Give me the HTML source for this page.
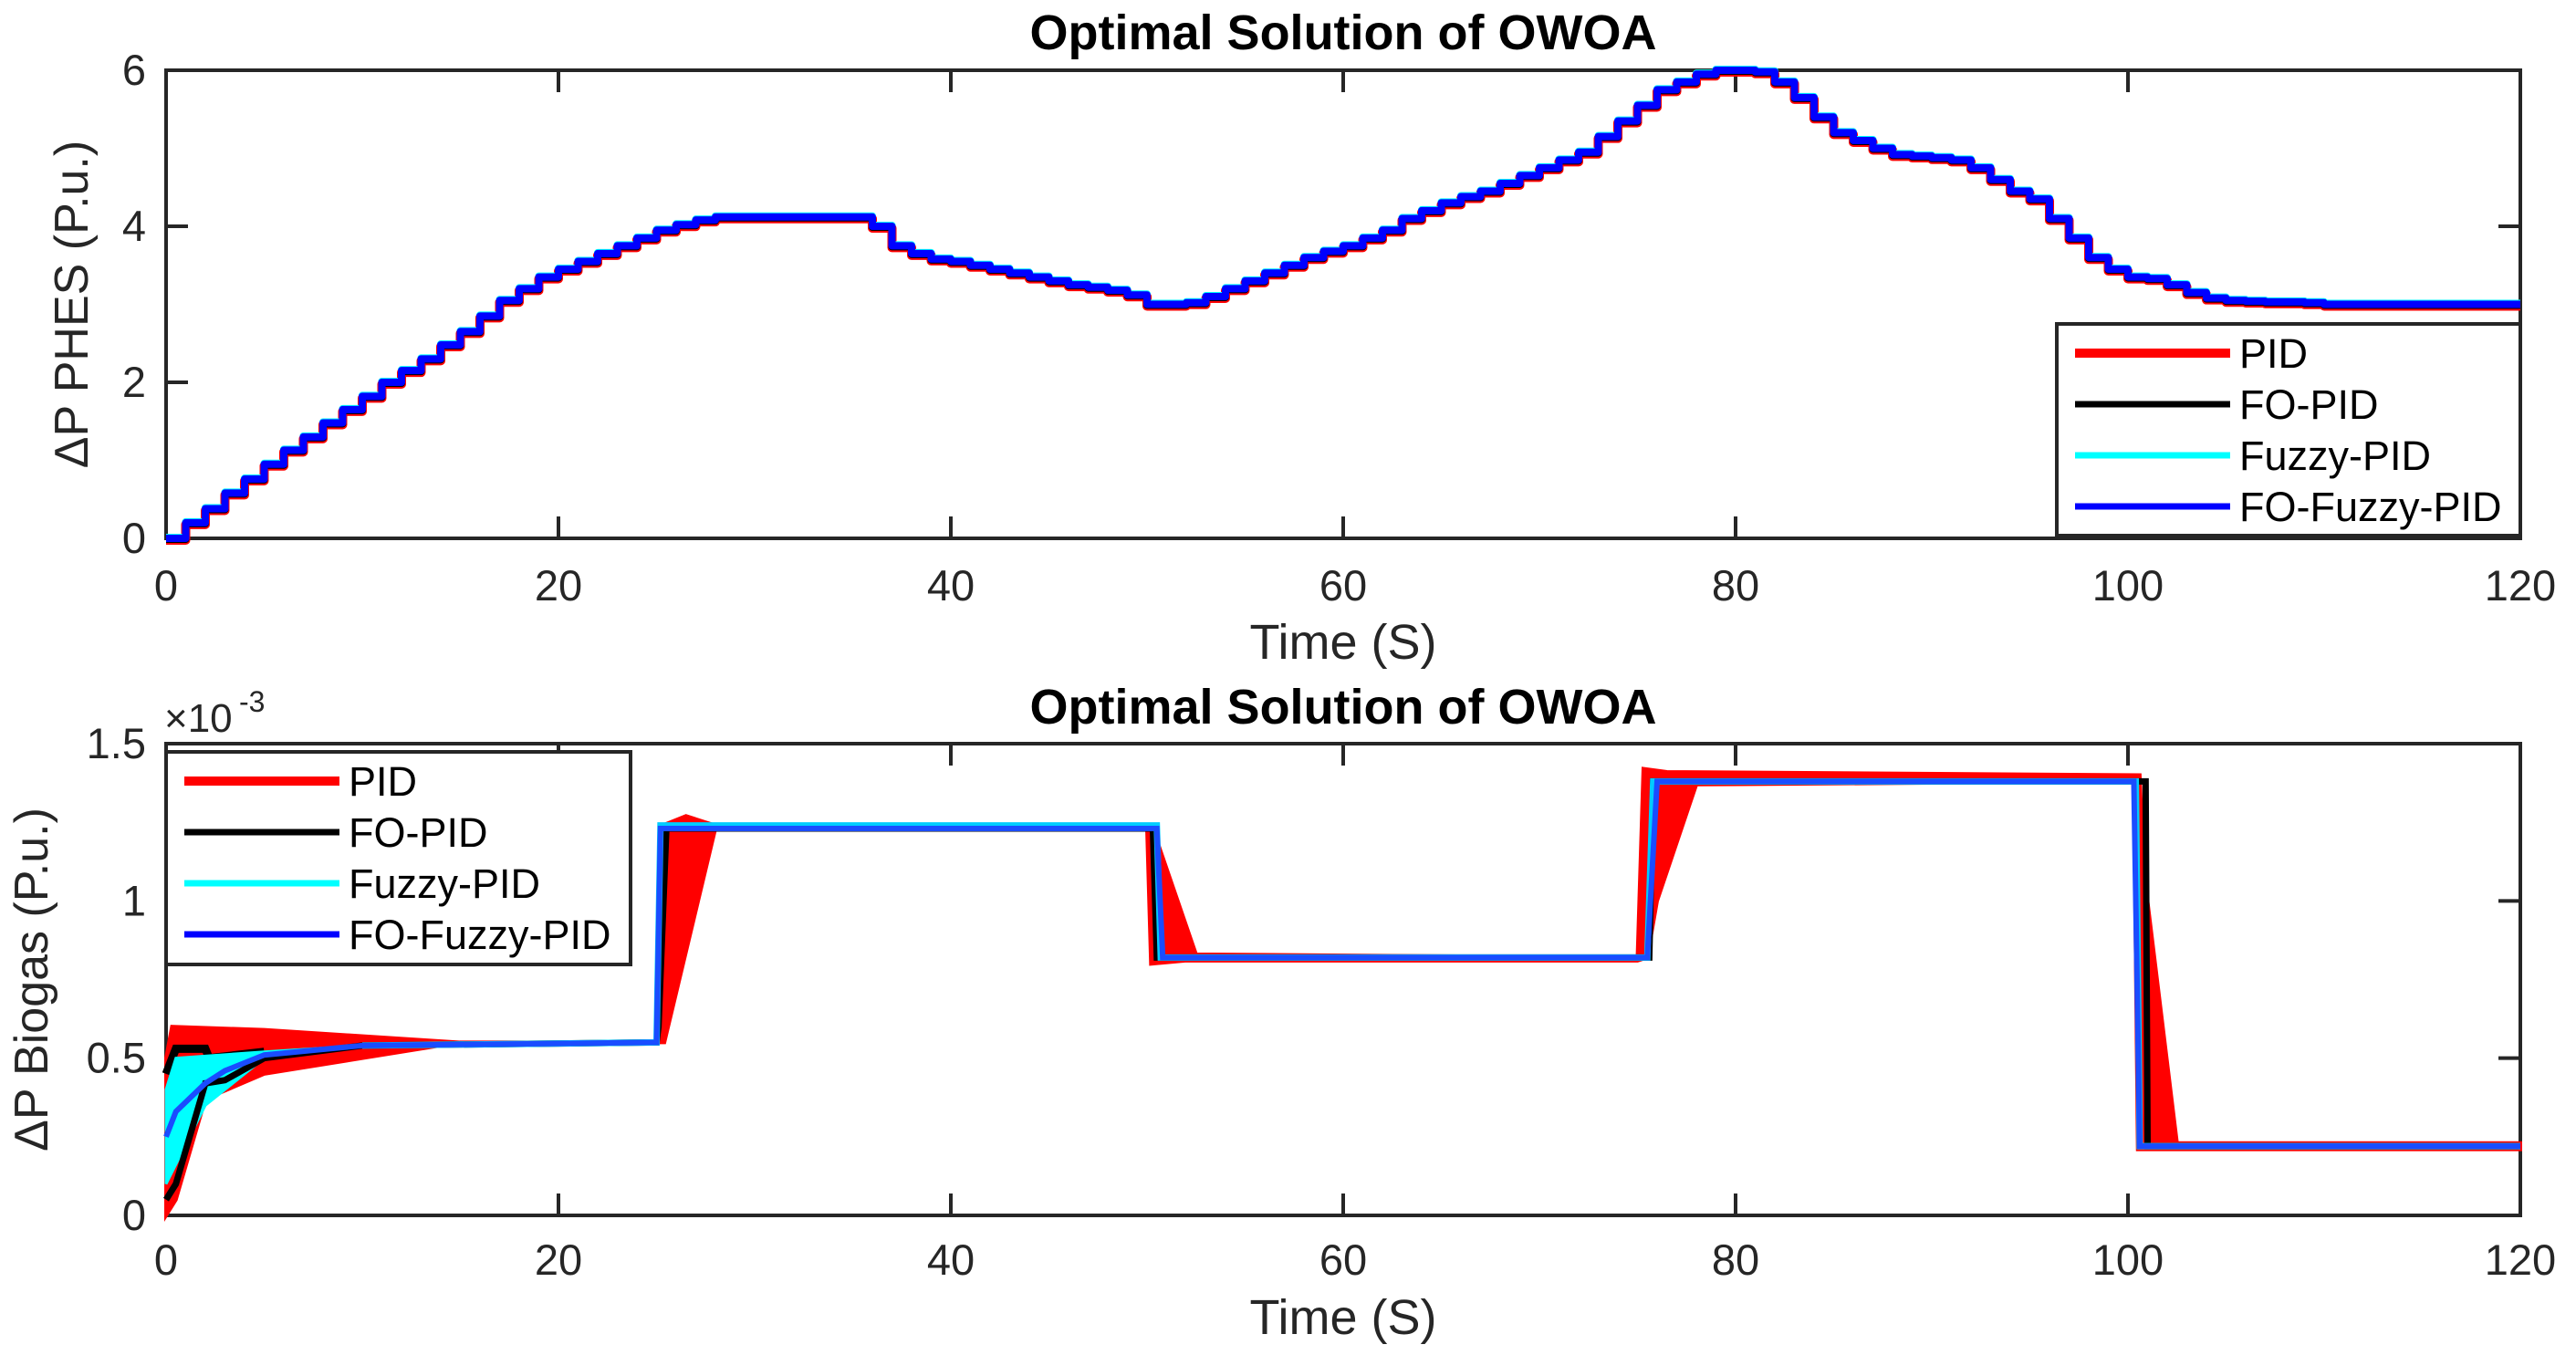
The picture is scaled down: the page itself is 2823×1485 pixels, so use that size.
<!DOCTYPE html>
<html><head><meta charset="utf-8">
<style>
html,body{margin:0;padding:0;background:#fff;}
svg{display:block;font-family:"Liberation Sans",Arial,sans-serif;}
</style></head>
<body>
<svg id="fig" width="2823" height="1485" viewBox="0 0 2823 1485" xmlns="http://www.w3.org/2000/svg">
<rect width="2823" height="1485" fill="#fff"/>
<g id="top"></g>
<g id="bot"></g>
</svg>
<script>
// ---- Data ----
const xTicks = [0,20,40,60,80,100,120];
const topYTicks = [0,2,4,6];
const botYTicks = [0,0.5,1,1.5];
const botYTickLabels = ["0","0.5","1","1.5"];
const seriesNames = ["PID","FO-PID","Fuzzy-PID","FO-Fuzzy-PID"];
const seriesColors = ["#ff0000","#000000","#00ffff","#0000ff"];
// Top chart: ΔP PHES, sampled every 1 s (t = 0..120)
const phesValues = [0,0.2,0.38,0.58,0.76,0.95,1.13,1.3,1.48,1.65,1.82,2.0,2.15,2.3,2.48,2.65,2.85,3.05,3.2,3.35,3.45,3.55,3.65,3.75,3.85,3.95,4.02,4.08,4.12,4.12,4.12,4.12,4.12,4.12,4.12,4.12,4.0,3.75,3.65,3.58,3.55,3.5,3.45,3.4,3.35,3.3,3.25,3.22,3.18,3.12,3.0,3.0,3.02,3.1,3.2,3.3,3.4,3.5,3.6,3.68,3.75,3.85,3.95,4.1,4.2,4.3,4.38,4.45,4.55,4.65,4.75,4.85,4.95,5.15,5.35,5.55,5.75,5.85,5.95,6.0,6.0,5.98,5.85,5.65,5.4,5.2,5.1,5.0,4.92,4.9,4.88,4.85,4.75,4.6,4.45,4.35,4.1,3.85,3.6,3.45,3.35,3.33,3.25,3.15,3.08,3.05,3.04,3.03,3.03,3.02,3.0,3.0,3.0,3.0,3.0,3.0,3.0,3.0,3.0,3.0,3.0];
// Bottom chart: ΔP Biogas (×1e-3). Each as [time, value]
const pidUpper = [[0,0.5],[0.3,0.6],[5,0.59],[15,0.55],[25,0.55],[25.3,1.24],[26.5,1.27],[28,1.24],[50.3,1.23],[52.5,0.83],[75,0.82],[75.3,1.42],[76.5,1.41],[100.6,1.4],[100.8,1.1],[102.5,0.23],[120,0.23]];
const pidLower = [[0,0],[0.5,0.05],[2,0.37],[5,0.45],[10,0.5],[15,0.55],[25,0.55],[25.4,0.55],[28,1.23],[50,1.23],[50.2,0.8],[52,0.81],[75,0.81],[75.5,0.82],[76,1.0],[78,1.37],[100.3,1.38],[100.5,0.21],[120,0.21]];
const fuzzyUpper = [[0,0.4],[0.5,0.5],[5,0.52],[10,0.54]];
const fuzzyLower = [[0,0.1],[2,0.35],[5,0.5],[10,0.54]];
const foPidUpper = [[0,0.45],[0.5,0.53],[2,0.53],[2.2,0.5],[5,0.52]];
const foPidLine = [[0,0.05],[0.5,0.1],[2,0.42],[3,0.43],[5,0.5],[10,0.54],[25,0.55],[25.1,0.6],[25.5,1.23],[50.3,1.23],[50.5,0.82],[75.6,0.82],[75.8,1.38],[100.9,1.38],[101,0.22],[120,0.22]];
const foFuzzyLine = [[0,0.25],[0.5,0.33],[2,0.42],[3,0.46],[5,0.51],[10,0.54],[25,0.55],[25.2,1.23],[50.5,1.23],[50.8,0.82],[75.5,0.82],[76,1.38],[100.3,1.38],[100.6,0.22],[120,0.22]];
const fuzzyLine = [[10,0.54],[25,0.55],[25.2,1.24],[50.5,1.24],[50.7,0.82],[75.5,0.82],[75.8,1.38],[100.4,1.38],[100.6,0.22],[120,0.22]];

const NS="http://www.w3.org/2000/svg";
function mk(parent,tag,attrs,text){const e=document.createElementNS(NS,tag);for(const k in attrs)e.setAttribute(k,attrs[k]);if(text!==undefined)e.textContent=text;parent.appendChild(e);return e;}
const X0=182,X1=2762;
function xs(t){return X0+(t-0)/(120-0)*(X1-X0);}

function axes(g,Y0,Y1,ymax,yTicks,yLabels,ylab,ylabX,title,titleY,xlabY,xtickY){
  const ys=v=>Y1-(v/ymax)*(Y1-Y0);
  const box=mk(g,'rect',{x:X0,y:Y0,width:X1-X0,height:Y1-Y0,fill:'none',stroke:'#262626','stroke-width':4});
  
  
  xTicks.forEach(t=>{
    const x=xs(t);
    mk(g,'line',{x1:x,y1:Y1,x2:x,y2:Y1-24,stroke:'#262626','stroke-width':4});
    mk(g,'line',{x1:x,y1:Y0,x2:x,y2:Y0+24,stroke:'#262626','stroke-width':4});
    const tl=mk(g,'text',{x:x,y:xtickY,'font-size':47,'text-anchor':'middle',fill:'#262626'},String(t));
    
    
  });
  yTicks.forEach((v,i)=>{
    const y=ys(v);
    mk(g,'line',{x1:X0,y1:y,x2:X0+24,y2:y,stroke:'#262626','stroke-width':4});
    mk(g,'line',{x1:X1,y1:y,x2:X1-24,y2:y,stroke:'#262626','stroke-width':4});
    const tl=mk(g,'text',{x:X0-22,y:y+16,'font-size':47,'text-anchor':'end',fill:'#262626'},yLabels[i]);
    
    
  });
  const yl=mk(g,'text',{x:ylabX,y:(Y0+Y1)/2,'font-size':52,'text-anchor':'middle',fill:'#262626',transform:`rotate(-90 ${ylabX} ${(Y0+Y1)/2})`},ylab);
  
  
  const xl=mk(g,'text',{x:(X0+X1)/2,y:xlabY,'font-size':54,'text-anchor':'middle',fill:'#262626'},'Time (S)');
  
  
  const tt=mk(g,'text',{x:(X0+X1)/2,y:titleY,'font-size':54,'font-weight':'bold','text-anchor':'middle',fill:'#000'},title);
  
  
  return ys;
}
function legend(g,x,y,w,h){
  const r=mk(g,'rect',{x:x,y:y,width:w,height:h,fill:'#fff',stroke:'#262626','stroke-width':4});
  
  
  seriesNames.forEach((n,i)=>{
    const cy=y+32+i*56;
    const ln=mk(g,'line',{x1:x+20,y1:cy,x2:x+190,y2:cy,stroke:seriesColors[i],'stroke-width':i==0?10:7});
    
    
    const t=mk(g,'text',{x:x+200,y:cy+16,'font-size':45,fill:'#000'},n);
    
    
  });
}
// Top chart
const gt=document.getElementById('top');
const ysT=axes(gt,77,590,6,topYTicks,topYTicks.map(String),'ΔP PHES (P.u.)',96,'Optimal Solution of OWOA',54,722,658);
function stepPath(vals,dy){
  let d='';
  vals.forEach((v,i)=>{const x=xs(i),y=ysT(v)+dy;d+= i==0?`M${x},${y}`:`H${x}V${y}`;});
  return d+`H${xs(120)}`;
}
[[0,2,'#ff0000',10],[1,1,'#000',8],[2,-1,'#00ffff',8],[3,0,'#0000ff',8]].forEach(([i,dy,c,w])=>{
  const p=mk(gt,'path',{d:stepPath(phesValues,dy),fill:'none',stroke:c,'stroke-width':w,'stroke-linejoin':'round'});
  
  
});
legend(gt,2254,355,508,232);

// Bottom chart
const gb=document.getElementById('bot');
const ysB=axes(gb,815,1332,1.5,botYTicks,botYTickLabels,'ΔP Biogas (P.u.)',52,'Optimal Solution of OWOA',793,1462,1397);
const exp=mk(gb,'text',{x:180,y:802,'font-size':44,fill:'#262626'},'×10');


mk(gb,'text',{x:262,y:780,'font-size':32,fill:'#262626'},'-3');
function pts(a){return a.map(p=>`${xs(p[0])},${ysB(p[1])}`).join(' ');}
function band(up,lo){return pts(up)+' '+pts(lo.slice().reverse());}
const pf=mk(gb,'polygon',{points:band(pidUpper,pidLower),fill:'#ff0000',stroke:'#ff0000','stroke-width':4});


const bu=mk(gb,'polyline',{points:pts(foPidUpper),fill:'none',stroke:'#000','stroke-width':9});


const cf=mk(gb,'polygon',{points:band(fuzzyUpper,fuzzyLower),fill:'#00ffff',stroke:'#00ffff','stroke-width':3});


const bl=mk(gb,'polyline',{points:pts(foPidLine),fill:'none',stroke:'#000','stroke-width':7});


const cl=mk(gb,'polyline',{points:pts(fuzzyLine),fill:'none',stroke:'#00ccff','stroke-width':7});


const blu=mk(gb,'polyline',{points:pts(foFuzzyLine),fill:'none',stroke:'#1a4cff','stroke-width':6});


legend(gb,182,824,509,233);
</script>
</body></html>
